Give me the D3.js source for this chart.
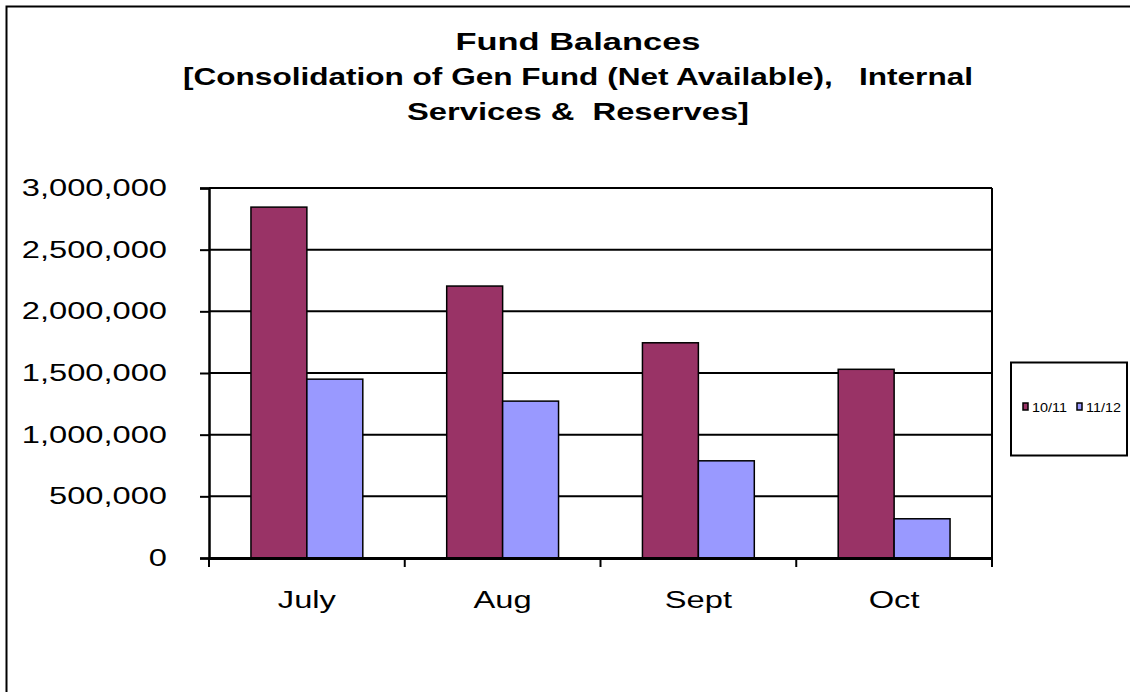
<!DOCTYPE html>
<html>
<head>
<meta charset="utf-8">
<script src="https://cdn.jsdelivr.net/npm/d3@7"></script>
<style>
  body { margin: 0; background: #fff; }
  svg { display: block; font-family: "Liberation Sans", Arial, sans-serif; }
</style>
</head>
<body>
<div id="chart"></div>
<script>
// data
const months = ["July", "Aug", "Sept", "Oct"];
const seriesNames = ["10/11", "11/12"];
const values1011 = [2845000, 2205000, 1745000, 1530000];
const values1112 = [1450000, 1272000, 788000, 318000];
const yTicks = [0, 500000, 1000000, 1500000, 2000000, 2500000, 3000000];
const titleLines = [
  "Fund Balances",
  "[Consolidation of Gen Fund (Net Available),   Internal",
  "Services &  Reserves]"
];
const titleWidths = [245, 790, 342]; // the source text is drawn stretched wide

const colors = ["#993366", "#9999ff"];
const W = 1130, H = 692;
const plot = { left: 209, right: 992, top: 188, bottom: 558 };
const stretch = 1.42; // horizontal stretch of the axis text

const svg = d3.select("#chart").append("svg")
  .attr("width", W)
  .attr("height", H);

// outer chart border (right/bottom edges fall outside the picture)
svg.append("rect")
  .attr("x", 6.5).attr("y", 6.5)
  .attr("width", 1300).attr("height", 900)
  .attr("fill", "none").attr("stroke", "#000").attr("stroke-width", 2);

// title
svg.append("g").selectAll("text")
  .data(titleLines)
  .join("text")
  .attr("x", 578)
  .attr("y", (d, i) => 50 + i * 35)
  .attr("text-anchor", "middle")
  .attr("font-size", 23)
  .attr("font-weight", "bold")
  .attr("xml:space", "preserve")
  .style("white-space", "pre")
  .attr("textLength", (d, i) => titleWidths[i])
  .attr("lengthAdjust", "spacingAndGlyphs")
  .text(d => d);

const x = d3.scaleBand()
  .domain(months)
  .range([plot.left, plot.right]);

const y = d3.scaleLinear()
  .domain([0, 3000000])
  .range([plot.bottom, plot.top]);

const barW = x.bandwidth() / 3.5;
const xs = d3.scaleBand()
  .domain(seriesNames)
  .range([0, barW * 2]);

// gridlines
svg.append("g").selectAll("line")
  .data(yTicks.filter(d => d > 0))
  .join("line")
  .attr("x1", plot.left).attr("x2", plot.right)
  .attr("y1", d => y(d)).attr("y2", d => y(d))
  .attr("stroke", "#000").attr("stroke-width", 2);

// right border of plot area
svg.append("line")
  .attr("x1", plot.right).attr("x2", plot.right)
  .attr("y1", plot.top).attr("y2", plot.bottom)
  .attr("stroke", "#000").attr("stroke-width", 2);

// bars
const rows = months.map((m, i) => ({ month: m, vals: [values1011[i], values1112[i]] }));
const groups = svg.append("g").selectAll("g")
  .data(rows)
  .join("g")
  .attr("transform", d => `translate(${x(d.month) + barW * 0.75},0)`);

groups.selectAll("rect")
  .data(d => d.vals.map((v, j) => ({ name: seriesNames[j], value: v, j })))
  .join("rect")
  .attr("x", d => xs(d.name))
  .attr("y", d => y(d.value))
  .attr("width", xs.bandwidth())
  .attr("height", d => y(0) - y(d.value))
  .attr("fill", d => colors[d.j])
  .attr("stroke", "#000")
  .attr("stroke-width", 1.5);

// y axis
const yAxis = svg.append("g")
  .attr("transform", `translate(${plot.left},0)`)
  .call(d3.axisLeft(y).tickValues(yTicks).tickSize(9)
    .tickFormat(d3.format(",")));
yAxis.select(".domain").attr("stroke-width", 2.5);
yAxis.selectAll(".tick line").attr("stroke-width", 2);
yAxis.selectAll("text")
  .attr("font-size", 23).attr("fill", "#000")
  .attr("font-family", "Liberation Sans, Arial, sans-serif")
  .attr("x", -42 / stretch)
  .attr("transform", `scale(${stretch},1)`);

// x axis
const xAxis = svg.append("g")
  .attr("transform", `translate(0,${plot.bottom})`)
  .call(d3.axisBottom(x).tickSize(0).tickPadding(34));
xAxis.select(".domain").attr("stroke-width", 3);
xAxis.selectAll("text")
  .attr("font-size", 23).attr("fill", "#000")
  .attr("font-family", "Liberation Sans, Arial, sans-serif")
  .attr("transform", `scale(${stretch},1)`);

// category separator ticks
svg.append("g").selectAll("line")
  .data(d3.range(months.length + 1))
  .join("line")
  .attr("x1", i => plot.left + i * x.step())
  .attr("x2", i => plot.left + i * x.step())
  .attr("y1", plot.bottom).attr("y2", plot.bottom + 9)
  .attr("stroke", "#000").attr("stroke-width", 2);

// legend
const legend = svg.append("g");
legend.append("rect")
  .attr("x", 1011).attr("y", 362.5)
  .attr("width", 116).attr("height", 93)
  .attr("fill", "#fff").attr("stroke", "#000").attr("stroke-width", 2);

const items = legend.selectAll("g")
  .data(seriesNames)
  .join("g")
  .attr("transform", (d, i) => `translate(${1023 + i * 54},403)`);
items.append("rect")
  .attr("width", 5).attr("height", 7)
  .attr("fill", (d, i) => colors[i])
  .attr("stroke", "#000").attr("stroke-width", 1.5);
items.append("text")
  .attr("x", 9 / 1.2).attr("y", 8.5)
  .attr("font-size", 12)
  .attr("transform", "scale(1.2,1)")
  .text(d => d);
</script>
</body>
</html>
